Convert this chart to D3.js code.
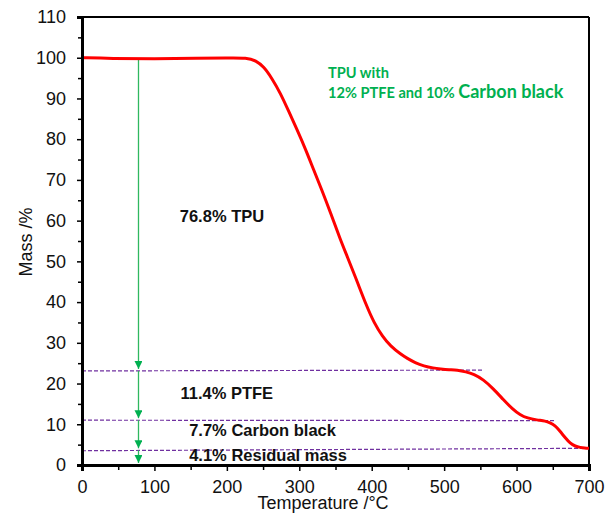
<!DOCTYPE html>
<html>
<head>
<meta charset="utf-8">
<script src="https://cdn.jsdelivr.net/npm/d3@7"></script>
<style>
  html, body { margin: 0; padding: 0; background: #fff; }
  svg { display: block; }
</style>
</head>
<body>
<svg id="chart" width="606" height="513"></svg>
<script>
// ---- data ----
const temperature = [0, 40, 100, 160, 200, 228, 240, 251, 262, 274, 285, 297, 309, 320, 331, 343, 357, 366, 380, 393, 403, 415, 426, 440, 449, 460, 472, 485, 495, 507, 518, 530, 541, 554, 568, 582, 594, 605, 615, 628, 640, 646, 653, 660, 667, 674, 681, 688, 694, 700];
const mass = [100, 99.8, 99.75, 99.85, 99.95, 100, 99.3, 97.8, 95.0, 91.3, 87.0, 82.3, 77.4, 72.4, 67.6, 62.0, 55.2, 51.3, 45.0, 39.0, 35.0, 31.5, 29.2, 27.2, 26.2, 25.1, 24.3, 23.8, 23.6, 23.4, 23.3, 22.9, 22.3, 21.0, 18.7, 16.0, 13.8, 12.3, 11.5, 11.05, 10.8, 10.4, 9.7, 8.3, 6.7, 5.3, 4.6, 4.3, 4.15, 4.1];

// dashed level lines
const levelX0 = [0, 0, 0];
const levelX1 = [554, 653, 700];
const levelY0 = [23.1, 11.0, 3.5];
const levelY1 = [23.3, 10.9, 4.1];

// green arrows at T = 78, from -> to
const arrowT = 78;
const arrowFrom = [99.8, 23.1, 11.0, 3.6];
const arrowTo = [23.1, 11.0, 3.6, 0];

// annotation labels
const labelText = ["76.8% TPU", "11.4% PTFE", "7.7% Carbon black", "4.1% Residual mass"];
const labelT = [135, 136, 148, 148];
const labelMass = [59.6, 16.2, 7.2, 1.0];

const xTicks = [0, 100, 200, 300, 400, 500, 600, 700];
const yTicks = [0, 10, 20, 30, 40, 50, 60, 70, 80, 90, 100, 110];
const xMinor = [50, 150, 250, 350, 450, 550, 650];
const yMinor = [5, 15, 25, 35, 45, 55, 65, 75, 85, 95, 105];

// ---- chart ----
const svg = d3.select("#chart");
const x = d3.scaleLinear().domain([0, 700]).range([82, 589]);
const y = d3.scaleLinear().domain([0, 110]).range([465, 17]);
const font = "'Liberation Sans', Arial, sans-serif";

// frame top & right
svg.append("line").attr("x1", x(0)).attr("x2", x(700)).attr("y1", y(110)).attr("y2", y(110))
  .attr("stroke", "#000").attr("stroke-width", 2);
svg.append("line").attr("x1", x(700)).attr("x2", x(700)).attr("y1", y(110)).attr("y2", y(0))
  .attr("stroke", "#000").attr("stroke-width", 2);

// minor ticks
const yMinorAxis = svg.append("g").attr("transform", `translate(${x(0)},0)`)
  .call(d3.axisLeft(y).tickValues(yMinor).tickSize(4).tickFormat(""));
yMinorAxis.select(".domain").remove();
yMinorAxis.selectAll("line").attr("stroke", "#000").attr("stroke-width", 1.5);
const xMinorAxis = svg.append("g").attr("transform", `translate(0,${y(0)})`)
  .call(d3.axisBottom(x).tickValues(xMinor).tickSize(5).tickFormat(""));
xMinorAxis.select(".domain").remove();
xMinorAxis.selectAll("line").attr("stroke", "#000").attr("stroke-width", 1.5);

// dashed level lines
levelY0.forEach((v, i) => {
  svg.append("line")
    .attr("x1", x(levelX0[i])).attr("x2", x(levelX1[i]))
    .attr("y1", y(v)).attr("y2", y(levelY1[i]))
    .attr("stroke", "#7030a0").attr("stroke-width", 1.2)
    .attr("stroke-dasharray", "4,2");
});

// arrow marker
svg.append("defs").append("marker")
  .attr("id", "arr").attr("viewBox", "0 0 10 10")
  .attr("refX", 10).attr("refY", 5)
  .attr("markerWidth", 9).attr("markerHeight", 8)
  .attr("markerUnits", "userSpaceOnUse")
  .attr("orient", "auto")
  .append("path").attr("d", "M0,0 L10,5 L0,10 Z").attr("fill", "#00b050");

arrowFrom.forEach((v, i) => {
  svg.append("line")
    .attr("x1", x(arrowT)).attr("x2", x(arrowT))
    .attr("y1", y(v)).attr("y2", y(arrowTo[i]) - 2)
    .attr("stroke", "#2fb85f").attr("stroke-width", 1.3)
    .attr("marker-end", "url(#arr)");
});

// curve
const line = d3.line().x(d => x(d[0])).y(d => y(d[1])).curve(d3.curveBasis);
svg.append("path")
  .datum(temperature.map((t, i) => [t, mass[i]]))
  .attr("d", line)
  .attr("fill", "none").attr("stroke", "#ff0000").attr("stroke-width", 3)
  .attr("stroke-linejoin", "round");

// major axes
const yAxis = svg.append("g").attr("transform", `translate(${x(0)},0)`)
  .call(d3.axisLeft(y).tickValues(yTicks).tickSize(5).tickPadding(11));
yAxis.select(".domain").attr("stroke", "#000").attr("stroke-width", 3);
yAxis.selectAll(".tick line").attr("stroke", "#000").attr("stroke-width", 1.5);
yAxis.selectAll("text").attr("font-family", font).attr("font-size", 18).attr("fill", "#111");

const xAxis = svg.append("g").attr("transform", `translate(0,${y(0)})`)
  .call(d3.axisBottom(x).tickValues(xTicks).tickSize(6).tickPadding(9));
xAxis.select(".domain").attr("stroke", "#000").attr("stroke-width", 3);
xAxis.selectAll(".tick line").attr("stroke", "#000").attr("stroke-width", 1.5);
xAxis.selectAll("text").attr("font-family", font).attr("font-size", 18).attr("fill", "#111");

// axis titles
svg.append("text").attr("x", 323).attr("y", 509).attr("text-anchor", "middle")
  .attr("font-family", font).attr("font-size", 18).attr("fill", "#111")
  .text("Temperature /\u00B0C");
svg.append("text").attr("transform", "translate(32,242) rotate(-90)").attr("text-anchor", "middle")
  .attr("font-family", font).attr("font-size", 18).attr("fill", "#111")
  .text("Mass /%");

// annotation labels
labelText.forEach((t, i) => {
  svg.append("text").attr("x", x(labelT[i])).attr("y", y(labelMass[i]))
    .attr("font-family", font).attr("font-weight", "bold").attr("font-size", 16.5)
    .attr("fill", "#111").text(t);
});

// green title
const gfont = "Lato, 'Open Sans', sans-serif";
svg.append("text").attr("x", 328).attr("y", 78)
  .attr("font-family", gfont).attr("font-weight", "bold").attr("font-size", 14.6)
  .attr("fill", "#00b050").text("TPU with");
const t2 = svg.append("text").attr("x", 328).attr("y", 98)
  .attr("font-family", gfont).attr("font-weight", "bold").attr("fill", "#00b050");
t2.append("tspan").attr("font-size", 14.6).text("12% PTFE and 10% ");
t2.append("tspan").attr("font-size", 18).text("Carbon black");
</script>
</body>
</html>
